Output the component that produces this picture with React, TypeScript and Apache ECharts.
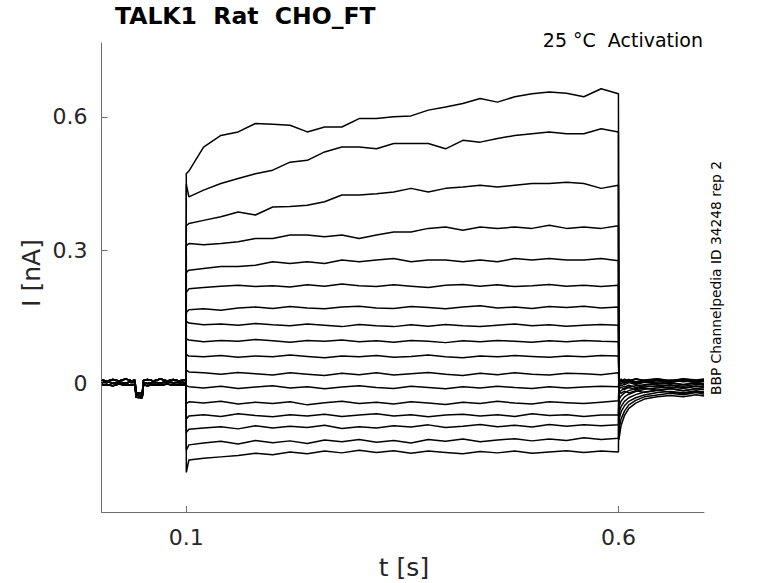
import React, { useEffect, useRef } from "react";
import * as echarts from "echarts";

// ---- data ----
const preTimes = [0.0024, 0.008, 0.015, 0.022, 0.03, 0.037, 0.0405, 0.042, 0.049, 0.0505, 0.055, 0.062, 0.07, 0.078, 0.085, 0.092, 0.0999];
const preA = [0.008, 0.005, 0.009, 0.006, 0.01, 0.006, 0.008, -0.021, -0.023, 0.007, 0.009, 0.006, 0.01, 0.006, 0.009, 0.006, 0.008];
const preB = [0.002, 0.004, 0.001, 0.003, 0.001, 0.004, 0.002, -0.026, -0.028, 0.002, 0.0, 0.003, 0.001, 0.004, 0.002, 0.003, 0.002];
const preC = [-0.004, -0.002, -0.005, -0.001, -0.004, -0.002, -0.003, -0.031, -0.032, -0.003, -0.005, -0.002, -0.004, -0.001, -0.004, -0.002, -0.003];

const stepTimes = [0.1, 0.103, 0.12, 0.14, 0.16, 0.18, 0.2, 0.22, 0.24, 0.26, 0.28, 0.3, 0.32, 0.34, 0.36, 0.38, 0.4, 0.42, 0.44, 0.46, 0.48, 0.5, 0.52, 0.54, 0.56, 0.58, 0.6];
const postTimes = [0.6005, 0.603, 0.607, 0.612, 0.62, 0.63, 0.645, 0.66, 0.675, 0.69, 0.699];

const step1 = [0.472, 0.478, 0.532, 0.558, 0.566, 0.585, 0.583, 0.581, 0.566, 0.577, 0.577, 0.596, 0.596, 0.6, 0.602, 0.615, 0.622, 0.63, 0.641, 0.633, 0.645, 0.652, 0.656, 0.653, 0.645, 0.663, 0.652];
const step2 = [0.448, 0.42, 0.435, 0.45, 0.461, 0.472, 0.48, 0.498, 0.502, 0.521, 0.532, 0.532, 0.528, 0.54, 0.54, 0.54, 0.528, 0.547, 0.543, 0.551, 0.558, 0.562, 0.566, 0.562, 0.562, 0.573, 0.566];
const step3 = [0.355, 0.36, 0.367, 0.375, 0.386, 0.379, 0.397, 0.398, 0.401, 0.409, 0.424, 0.424, 0.427, 0.431, 0.439, 0.431, 0.439, 0.442, 0.446, 0.442, 0.446, 0.45, 0.45, 0.453, 0.45, 0.439, 0.446];
const step4 = [0.31, 0.315, 0.312, 0.315, 0.319, 0.326, 0.326, 0.334, 0.334, 0.33, 0.334, 0.326, 0.334, 0.341, 0.341, 0.349, 0.352, 0.345, 0.352, 0.349, 0.352, 0.349, 0.356, 0.349, 0.352, 0.349, 0.355];
const step5 = [0.25, 0.255, 0.259, 0.263, 0.263, 0.266, 0.274, 0.27, 0.274, 0.27, 0.278, 0.274, 0.278, 0.281, 0.274, 0.278, 0.278, 0.274, 0.278, 0.274, 0.281, 0.278, 0.281, 0.278, 0.278, 0.281, 0.276];
const step6 = [0.205, 0.213, 0.216, 0.219, 0.221, 0.218, 0.22, 0.217, 0.222, 0.219, 0.224, 0.22, 0.218, 0.222, 0.219, 0.216, 0.221, 0.223, 0.219, 0.222, 0.218, 0.22, 0.223, 0.219, 0.221, 0.218, 0.221];
const step7 = [0.16, 0.166, 0.168, 0.165, 0.17, 0.172, 0.169, 0.173, 0.17, 0.168, 0.172, 0.174, 0.17, 0.169, 0.173, 0.171, 0.168, 0.172, 0.175, 0.17, 0.172, 0.169, 0.173, 0.171, 0.174, 0.17, 0.172];
const step8 = [0.14, 0.136, 0.132, 0.134, 0.131, 0.135, 0.132, 0.13, 0.134, 0.131, 0.128, 0.133, 0.13, 0.128, 0.132, 0.129, 0.133, 0.13, 0.128, 0.131, 0.134, 0.13, 0.132, 0.129, 0.131, 0.133, 0.131];
const step9 = [0.1, 0.098, 0.094, 0.097, 0.095, 0.099, 0.096, 0.093, 0.097, 0.095, 0.098, 0.094, 0.096, 0.093, 0.097, 0.095, 0.092, 0.096, 0.094, 0.097, 0.095, 0.093, 0.096, 0.094, 0.097, 0.095, 0.094];
const step10 = [0.065, 0.062, 0.06, 0.063, 0.059, 0.062, 0.06, 0.064, 0.061, 0.058, 0.062, 0.06, 0.063, 0.059, 0.061, 0.064, 0.06, 0.058, 0.062, 0.06, 0.063, 0.061, 0.059, 0.062, 0.06, 0.063, 0.062];
const step11 = [0.03, 0.026, 0.024, 0.021, 0.025, 0.022, 0.019, 0.024, 0.021, 0.018, 0.023, 0.02, 0.024, 0.019, 0.022, 0.025, 0.021, 0.018, 0.023, 0.02, 0.024, 0.021, 0.019, 0.023, 0.022, 0.02, 0.024];
const step12 = [-0.005, -0.007, -0.01, -0.006, -0.011, -0.008, -0.005, -0.01, -0.007, -0.012, -0.008, -0.005, -0.009, -0.011, -0.006, -0.009, -0.012, -0.007, -0.01, -0.006, -0.009, -0.011, -0.007, -0.01, -0.008, -0.006, -0.007];
const step13 = [-0.045, -0.041, -0.044, -0.04, -0.046, -0.042, -0.045, -0.041, -0.048, -0.043, -0.04, -0.045, -0.042, -0.046, -0.041, -0.044, -0.047, -0.042, -0.045, -0.04, -0.044, -0.046, -0.041, -0.043, -0.045, -0.042, -0.039];
const step14 = [-0.08, -0.073, -0.07, -0.074, -0.068, -0.072, -0.075, -0.07, -0.073, -0.069, -0.074, -0.071, -0.068, -0.073, -0.07, -0.075, -0.071, -0.069, -0.073, -0.07, -0.074, -0.068, -0.072, -0.07, -0.074, -0.071, -0.071];
const step15 = [-0.11, -0.103, -0.1, -0.097, -0.102, -0.095, -0.1, -0.096, -0.099, -0.094, -0.101, -0.097, -0.1, -0.095, -0.098, -0.093, -0.099, -0.096, -0.092, -0.097, -0.094, -0.098, -0.092, -0.096, -0.093, -0.095, -0.093];
const step16 = [-0.15, -0.138, -0.134, -0.13, -0.136, -0.128, -0.133, -0.129, -0.135, -0.127, -0.131, -0.126, -0.132, -0.128, -0.134, -0.126, -0.13, -0.125, -0.131, -0.127, -0.124, -0.129, -0.125, -0.128, -0.122, -0.126, -0.123];
const step17 = [-0.2, -0.172, -0.168, -0.165, -0.162, -0.157, -0.16, -0.154, -0.158, -0.152, -0.156, -0.15, -0.155, -0.151, -0.157, -0.152, -0.155, -0.158, -0.153, -0.156, -0.152, -0.157, -0.154, -0.151, -0.155, -0.152, -0.154];

const post1 = [-0.127, -0.095, -0.072, -0.056, -0.044, -0.035, -0.03, -0.027, -0.03, -0.025, -0.028];
const post2 = [-0.105, -0.08, -0.062, -0.048, -0.038, -0.03, -0.026, -0.022, -0.025, -0.02, -0.024];
const post3 = [-0.082, -0.064, -0.05, -0.04, -0.032, -0.026, -0.02, -0.018, -0.021, -0.016, -0.019];
const post4 = [-0.067, -0.052, -0.04, -0.032, -0.025, -0.019, -0.015, -0.012, -0.016, -0.011, -0.013];
const post5 = [-0.053, -0.04, -0.03, -0.024, -0.018, -0.013, -0.01, -0.008, -0.011, -0.006, -0.009];
const post6 = [-0.037, -0.028, -0.021, -0.016, -0.011, -0.008, -0.005, -0.003, -0.006, -0.002, -0.004];
const post7 = [-0.022, -0.016, -0.011, -0.008, -0.005, -0.003, -0.001, 0.001, -0.002, 0.002, 0];
const post8 = [0.004, 0.008, 0.003, 0.007, 0.002, 0.006, 0.003, 0.008, 0.004, 0.007, 0.005];
const post9 = [0.0, 0.005, 0.001, 0.006, 0.002, 0.005, 0.0, 0.004, 0.007, 0.003, 0.006];
const post10 = [0.008, 0.004, 0.009, 0.005, 0.01, 0.006, 0.009, 0.005, 0.01, 0.007, 0.009];
const post11 = [-0.004, 0.001, -0.003, 0.002, -0.002, 0.003, -0.001, 0.002, -0.003, 0.001, -0.002];
const post12 = [0.006, 0.01, 0.005, 0.009, 0.004, 0.008, 0.011, 0.006, 0.009, 0.005, 0.008];
const post13 = [-0.012, -0.008, -0.013, -0.009, -0.014, -0.01, -0.015, -0.011, -0.016, -0.012, -0.014];
const post14 = [0.002, 0.006, 0.001, 0.005, 0.0, 0.004, 0.007, 0.003, 0.006, 0.002, 0.005];
const post15 = [-0.018, -0.022, -0.017, -0.021, -0.016, -0.02, -0.015, -0.019, -0.023, -0.018, -0.021];
const post16 = [0.009, 0.005, 0.01, 0.006, 0.011, 0.007, 0.01, 0.006, 0.011, 0.008, 0.01];
const post17 = [-0.007, -0.003, -0.008, -0.004, -0.009, -0.005, -0.008, -0.004, -0.009, -0.006, -0.008];

const stepTraces = [step1, step2, step3, step4, step5, step6, step7, step8, step9, step10, step11, step12, step13, step14, step15, step16, step17];
const postTraces = [post1, post2, post3, post4, post5, post6, post7, post8, post9, post10, post11, post12, post13, post14, post15, post16, post17];
const prePatterns = [preA, preB, preC];

const xTicks = [0.1, 0.6];
const yTicks = [0, 0.3, 0.6];

const titleText = "TALK1  Rat  CHO_FT";
const subtitleText = "25 °C  Activation";
const sideText = "BBP Channelpedia ID 34248 rep 2";
const xName = "t [s]";
const yName = "I [nA]";

const FONT = "DejaVu Sans";
const AXIS_GRAY = "#6e6e6e";
const LABEL_GRAY = "#262626";

export default function App() {
  const ref = useRef<HTMLDivElement>(null);
  useEffect(() => {
    if (!ref.current) return;
    const chart = echarts.init(ref.current, undefined, { renderer: "svg" });
    const series = stepTraces.map((st, i) => {
      const pre = prePatterns[i % 3];
      const post = postTraces[i];
      const data: number[][] = [];
      preTimes.forEach((t, j) => data.push([t, pre[j]]));
      stepTimes.forEach((t, j) => data.push([t, st[j]]));
      postTimes.forEach((t, j) => data.push([t, post[j]]));
      return {
        type: "line",
        data,
        showSymbol: false,
        symbol: "none",
        silent: true,
        lineStyle: { color: "#000000", width: 1.5 },
        z: 2,
      };
    });
    const labelStyle = {
      show: true,
      color: LABEL_GRAY,
      fontSize: 22,
      fontFamily: FONT,
      margin: 14,
      formatter: (v: number) => String(Math.round(v * 10) / 10),
    };
    chart.setOption({
      animation: false,
      backgroundColor: "#ffffff",
      grid: { left: 101.6, right: 74, top: 43, bottom: 71, containLabel: false },
      xAxis: {
        type: "value",
        min: 0.002,
        max: 0.699,
        axisLine: { show: true, onZero: false, lineStyle: { color: AXIS_GRAY, width: 1 } },
        axisTick: { show: true, inside: true, length: 6, lineStyle: { color: AXIS_GRAY }, customValues: xTicks },
        axisLabel: { ...labelStyle, customValues: xTicks },
        splitLine: { show: false },
      },
      yAxis: {
        type: "value",
        min: -0.289,
        max: 0.766,
        axisLine: { show: true, onZero: false, lineStyle: { color: AXIS_GRAY, width: 1 } },
        axisTick: { show: true, inside: true, length: 6, lineStyle: { color: AXIS_GRAY }, customValues: yTicks },
        axisLabel: { ...labelStyle, customValues: yTicks },
        splitLine: { show: false },
      },
      graphic: [
        {
          type: "text",
          left: 115,
          top: 4,
          style: { text: titleText, fontSize: 23.5, fontWeight: "bold", fontFamily: FONT, fill: "#000000" },
        },
        {
          type: "text",
          x: 703,
          y: 40,
          style: { text: subtitleText, fontSize: 19, fontFamily: FONT, fill: "#000000", textAlign: "right", textVerticalAlign: "middle" },
        },
        {
          type: "text",
          x: 716,
          y: 278,
          rotation: Math.PI / 2,
          style: { text: sideText, fontSize: 13.8, fontFamily: FONT, fill: "#000000", textAlign: "center", textVerticalAlign: "middle" },
        },
        {
          type: "text",
          x: 404,
          y: 567,
          style: { text: xName, fontSize: 25, fontFamily: FONT, fill: LABEL_GRAY, textAlign: "center", textVerticalAlign: "middle" },
        },
        {
          type: "text",
          x: 31,
          y: 273,
          rotation: Math.PI / 2,
          style: { text: yName, fontSize: 25, fontFamily: FONT, fill: LABEL_GRAY, textAlign: "center", textVerticalAlign: "middle" },
        },
      ],
      series,
    });
    return () => chart.dispose();
  }, []);
  return <div ref={ref} style={{ position: "fixed", left: 0, top: 0, width: 778, height: 583, background: "#fff" }} />;
}
